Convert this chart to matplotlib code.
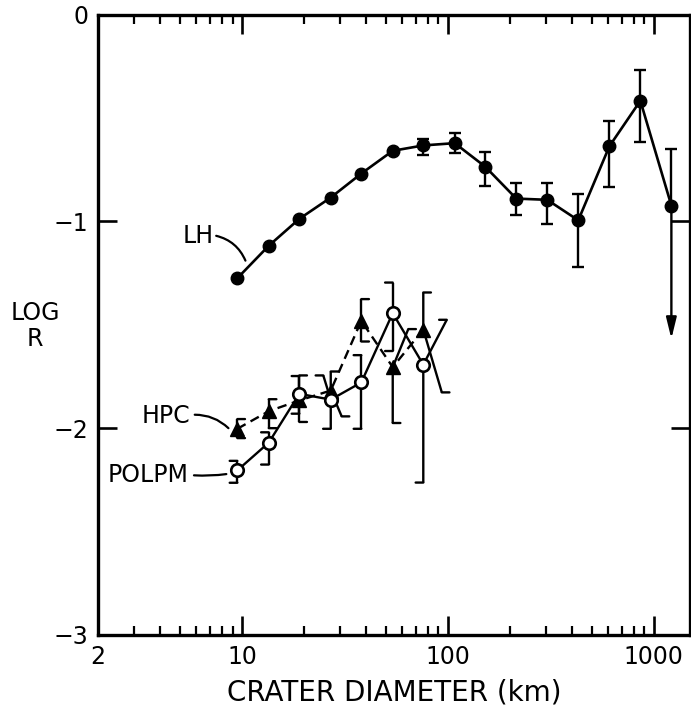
import numpy as np
import matplotlib
matplotlib.use('Agg')
import matplotlib.pyplot as plt

# ---------------- data ----------------
lh_d = [9.5, 13.5, 19, 27, 38, 54, 76, 108, 152, 215, 304, 430, 609, 861, 1218]
lh_logr = [-1.275, -1.118, -0.988, -0.885, -0.769, -0.659, -0.633, -0.622,
           -0.736, -0.890, -0.896, -0.995, -0.637, -0.417, -0.924]
lh_hi = [None, None, None, None, None, None, -0.600, -0.575, -0.663, -0.817,
         -0.813, -0.866, -0.516, -0.266, -0.648]
lh_lo = [None, None, None, None, None, None, -0.677, -0.670, -0.828, -0.971,
         -1.013, -1.220, -0.832, -0.617, None]
lh_arrow_to = -1.568          # last LH point: upper limit arrow

hpc_d = [9.5, 13.5, 19, 27, 38, 54, 76]
hpc_logr = [-2.003, -1.918, -1.866, -1.818, -1.481, -1.705, -1.523]
hpc_hi = [-1.956, -1.860, -1.745, -1.726, -1.376, -1.521, -1.344]
hpc_lo = [-2.048, -2.000, -1.970, -1.943, -1.581, -1.975, -1.827]

polpm_d = [9.5, 13.5, 19, 27, 38, 54, 76]
polpm_logr = [-2.204, -2.070, -1.834, -1.862, -1.779, -1.444, -1.693]
polpm_hi = [-2.158, -2.020, -1.748, -1.745, -1.647, -1.296, -1.476]
polpm_lo = [-2.264, -2.176, -1.930, -2.003, -2.003, -1.627, -2.263]

xtick_vals = [2, 10, 100, 1000]
xtick_labels = ['2', '10', '100', '1000']
ytick_vals = [-3, -2, -1, 0]
ytick_labels = ['\u22123', '\u22122', '\u22121', '0']

# style: tilt (x multiplier) of bracket ends drawn slanted in the original
hpc_tilt = {3: {'lo': 1.13}, 5: {'hi': 1.19}, 6: {'lo': 1.23}}
polpm_tilt = {3: {'hi': 0.92}, 6: {'hi': 1.30}}

# ---------------- figure ----------------
plt.rcParams['font.family'] = ['DejaVu Sans']
fig = plt.figure(figsize=(6.91, 7.14), dpi=100)
ax = fig.add_axes([98 / 691, 1 - 635 / 714, (690 - 98) / 691, (635 - 14.5) / 714])
ax.set_xscale('log')
ax.set_xlim(2, 1500)
ax.set_ylim(-3, 0)

LW = 1.9
K = 'black'

# LH series
ax.plot(lh_d, lh_logr, '-', color=K, lw=LW, marker='o', ms=9, mfc=K, mec=K, zorder=3)
idx = [i for i in range(len(lh_d)) if lh_hi[i] is not None and lh_lo[i] is not None]
ax.errorbar([lh_d[i] for i in idx], [lh_logr[i] for i in idx],
            yerr=[[lh_logr[i] - lh_lo[i] for i in idx], [lh_hi[i] - lh_logr[i] for i in idx]],
            fmt='none', ecolor=K, elinewidth=1.7, capsize=4.5, capthick=1.7, zorder=2)
last = len(lh_d) - 1
ax.errorbar([lh_d[last]], [lh_logr[last]], yerr=[[0], [lh_hi[last] - lh_logr[last]]],
            fmt='none', ecolor=K, elinewidth=1.7, capsize=4.5, capthick=1.7, zorder=2)
ax.annotate('', xy=(lh_d[last], lh_arrow_to), xytext=(lh_d[last], lh_logr[last]),
            arrowprops=dict(arrowstyle='-|>,head_width=0.22,head_length=0.9', lw=1.7,
                            color=K, shrinkA=0, shrinkB=0, mutation_scale=14), zorder=2)


def bracket(x, y, lo, hi, side, tilt):
    """Half-bracket error bar; side=+1 serifs to the right ('['), -1 to the left (']')."""
    xh = x * tilt.get('hi', 1.0)
    xl = x * tilt.get('lo', 1.0)
    ax.plot([xl, x, xh], [lo, y, hi], '-', color=K, lw=1.7, zorder=2,
            solid_capstyle='butt')
    for xe, ye in ((xh, hi), (xl, lo)):
        ax.annotate('', xy=(xe, ye), xycoords='data', xytext=(side * 5.5, 0),
                    textcoords='offset points',
                    arrowprops=dict(arrowstyle='-', lw=1.7, color=K, shrinkA=0, shrinkB=0),
                    zorder=2)


for i in range(len(hpc_d)):
    bracket(hpc_d[i], hpc_logr[i], hpc_lo[i], hpc_hi[i], +1, hpc_tilt.get(i, {}))
for i in range(len(polpm_d)):
    bracket(polpm_d[i], polpm_logr[i], polpm_lo[i], polpm_hi[i], -1, polpm_tilt.get(i, {}))

ax.plot(hpc_d, hpc_logr, color=K, lw=1.7, dashes=(4, 2.4), zorder=3)
ax.plot(hpc_d, hpc_logr, ls='none', marker='^', ms=10, mfc=K, mec=K, zorder=4)
ax.plot(polpm_d, polpm_logr, '-', color=K, lw=1.7, zorder=3)
ax.plot(polpm_d, polpm_logr, ls='none', marker='o', ms=9, mfc='white', mec=K, mew=1.9, zorder=5)

# series labels with leader lines
TF = 17
ax.text(6.1, -1.07, 'LH', fontsize=TF, ha='center', va='center')
ax.annotate('', xy=(10.4, -1.19), xytext=(7.5, -1.07),
            arrowprops=dict(arrowstyle='-', lw=1.6, color=K, shrinkA=0, shrinkB=0,
                            connectionstyle='arc3,rad=-0.25'))
ax.text(4.27, -1.94, 'HPC', fontsize=TF, ha='center', va='center')
ax.annotate('', xy=(8.6, -2.0), xytext=(5.9, -1.935),
            arrowprops=dict(arrowstyle='-', lw=1.6, color=K, shrinkA=0, shrinkB=0,
                            connectionstyle='arc3,rad=-0.2'))
ax.text(3.5, -2.225, 'POLPM', fontsize=TF, ha='center', va='center')
ax.annotate('', xy=(8.4, -2.222), xytext=(5.85, -2.228),
            arrowprops=dict(arrowstyle='-', lw=1.6, color=K, shrinkA=0, shrinkB=0,
                            connectionstyle='arc3,rad=0.05'))

# axes styling
for s in ax.spines.values():
    s.set_linewidth(2.4)
ax.set_xticks(xtick_vals)
ax.set_xticklabels(xtick_labels)
ax.set_yticks(ytick_vals)
ax.set_yticklabels(ytick_labels)
ax.tick_params(which='major', direction='in', top=True, right=True, length=13.5, width=1.9,
               labelsize=17, pad=7)
ax.tick_params(which='minor', direction='in', top=True, right=True, length=6.5, width=1.6)
ax.tick_params(axis='y', which='minor', left=False, right=False)

ax.set_xlabel('CRATER DIAMETER (km)', fontsize=20, labelpad=7)
fig.text(35 / 691, 1 - 326 / 714, 'LOG\nR', fontsize=17, ha='center', va='center',
         linespacing=1.1)

fig.savefig('out.png', dpi=100)
